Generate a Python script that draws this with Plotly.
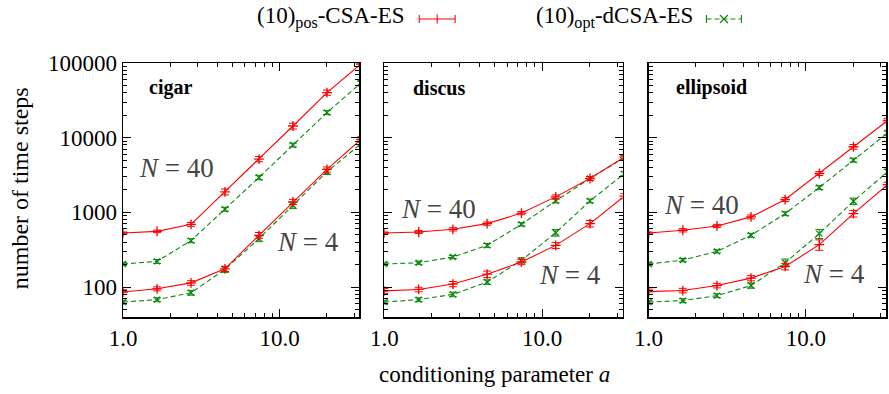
import plotly.graph_objects as go

# ---------------- data ----------------
a_vals = [1.0, 1.65, 2.72, 4.48, 7.39, 12.18, 20.09, 33.12]

panel_names = ["cigar", "discus", "ellipsoid"]

# (10)pos-CSA-ES
cigar_pos_N40 = [531, 558, 693, 1884, 5180, 14350, 40200, 97000]
cigar_pos_N4 = [86, 95, 114, 176, 494, 1384, 3760, 9500]
discus_pos_N40 = [531, 547, 594, 708, 980, 1614, 2846, 5500]
discus_pos_N4 = [89, 93, 110, 149, 217, 362, 708, 1650]
ellipsoid_pos_N40 = [531, 577, 659, 871, 1486, 3320, 7570, 17000]
ellipsoid_pos_N4 = [87, 90, 105, 132, 189, 370, 964, 2350]

# (10)opt-dCSA-ES
cigar_opt_N40 = [204, 221, 419, 1104, 2940, 7980, 21700, 54000]
cigar_opt_N4 = [63, 68, 84, 173, 446, 1248, 3500, 8300]
discus_opt_N40 = [204, 212, 253, 362, 693, 1426, 2846, 5400]
discus_opt_N4 = [63, 68, 80, 117, 228, 535, 1426, 3300]
ellipsoid_opt_N40 = [204, 230, 301, 494, 964, 2150, 5010, 11600]
ellipsoid_opt_N4 = [63, 66, 77, 105, 212, 520, 1413, 3500]

# error bar half-widths, percent of value
cigar_pos_N40_err = [3, 4, 6, 9, 8, 9, 8, 8]
cigar_pos_N4_err = [7, 6, 7, 8, 9, 8, 8, 8]
discus_pos_N40_err = [3, 5, 5, 5, 5, 6, 6, 6]
discus_pos_N4_err = [8, 7, 8, 10, 8, 9, 10, 8]
ellipsoid_pos_N40_err = [3, 5, 5, 6, 6, 6, 7, 7]
ellipsoid_pos_N4_err = [8, 7, 7, 8, 10, 16, 10, 8]
cigar_opt_N40_err = [5, 6, 6, 6, 7, 6, 6, 6]
cigar_opt_N4_err = [6, 6, 7, 9, 9, 10, 8, 8]
discus_opt_N40_err = [5, 5, 5, 6, 5, 6, 6, 6]
discus_opt_N4_err = [6, 6, 7, 7, 8, 10, 6, 6]
ellipsoid_opt_N40_err = [5, 5, 5, 6, 6, 6, 6, 6]
ellipsoid_opt_N4_err = [6, 6, 6, 8, 12, 14, 10, 8]

legend_pos = "(10)<sub>pos</sub>-CSA-ES"
legend_opt = "(10)<sub>opt</sub>-dCSA-ES"
x_tick_vals = [1, 10]
x_tick_text = ["1.0", "10.0"]
y_tick_vals = [100, 1000, 10000, 100000]
y_tick_text = ["100", "1000", "10000", "100000"]

# ---------------- styling ----------------
RED = "#ff0000"
GREEN = "#0a8a0a"
FONT = "Liberation Serif"
TXT_GRAY = "#444444"

panel_series = [
    [(cigar_pos_N40, cigar_pos_N40_err, "pos"), (cigar_pos_N4, cigar_pos_N4_err, "pos"),
     (cigar_opt_N40, cigar_opt_N40_err, "opt"), (cigar_opt_N4, cigar_opt_N4_err, "opt")],
    [(discus_pos_N40, discus_pos_N40_err, "pos"), (discus_pos_N4, discus_pos_N4_err, "pos"),
     (discus_opt_N40, discus_opt_N40_err, "opt"), (discus_opt_N4, discus_opt_N4_err, "opt")],
    [(ellipsoid_pos_N40, ellipsoid_pos_N40_err, "pos"), (ellipsoid_pos_N4, ellipsoid_pos_N4_err, "pos"),
     (ellipsoid_opt_N40, ellipsoid_opt_N40_err, "opt"), (ellipsoid_opt_N4, ellipsoid_opt_N4_err, "opt")],
]

fig = go.Figure()

for p, series in enumerate(panel_series):
    xa = "x" if p == 0 else f"x{p+1}"
    ya = "y" if p == 0 else f"y{p+1}"
    # draw green first, red on top
    for vals, errp, kind in sorted(series, key=lambda s: 0 if s[2] == "opt" else 1):
        err = [v * e / 100.0 for v, e in zip(vals, errp)]
        if kind == "pos":
            color, dash, sym, msize = RED, "solid", "cross-thin", 7
        else:
            color, dash, sym, msize = GREEN, "5px,3px", "x-thin", 6
        fig.add_trace(go.Scatter(
            x=a_vals, y=vals, xaxis=xa, yaxis=ya,
            mode="lines+markers",
            line=dict(color=color, width=1.1, dash=dash),
            marker=dict(symbol=sym, size=msize, color=color,
                        line=dict(color=color, width=1.3)),
            error_y=dict(type="data", array=err, visible=True,
                         color=color, thickness=1, width=4),
            showlegend=False, hoverinfo="skip",
        ))

# layout geometry
W, H = 889, 394
ML, MR, MT, MB = 123, 1, 63, 77
pw = W - ML - MR
ph = H - MT - MB
panel_px = [(123, 360), (385, 624), (650, 888)]


def dom(a, b):
    return [max(0.0, (a - ML) / pw), min(1.0, (b - ML) / pw)]


x_minor = [k for k in range(2, 10)] + [20, 30]
y_minor = [d * k for d in [10, 100, 1000, 10000] for k in range(2, 10) if d * k >= 40]

layout = dict(
    width=W, height=H,
    margin=dict(l=ML, r=MR, t=MT, b=MB),
    paper_bgcolor="white", plot_bgcolor="white",
    showlegend=False,
    font=dict(family=FONT, size=23, color="black"),
)

for p in range(3):
    sx = "" if p == 0 else str(p + 1)
    layout["xaxis" + sx] = dict(
        type="log", range=[0, 1.51], domain=dom(*panel_px[p]),
        anchor="y" + sx,
        tickvals=x_tick_vals, ticktext=x_tick_text,
        ticks="inside", ticklen=8, tickwidth=1, tickcolor="black",
        minor=dict(tickvals=x_minor, ticks="inside", ticklen=4,
                   tickwidth=1, tickcolor="black", showgrid=False),
        showline=True, linecolor="black", linewidth=1.5, mirror="ticks",
        showgrid=False, zeroline=False,
        tickfont=dict(family=FONT, size=23, color="black"),
        ticklabelstandoff=0,
    )
    layout["yaxis" + sx] = dict(
        type="log", range=[1.6, 5.0], domain=[0, 1],
        anchor="x" + sx,
        tickvals=y_tick_vals, ticktext=y_tick_text,
        showticklabels=(p == 0),
        ticks="inside", ticklen=8, tickwidth=1, tickcolor="black",
        minor=dict(tickvals=y_minor, ticks="inside", ticklen=4,
                   tickwidth=1, tickcolor="black", showgrid=False),
        showline=True, linecolor="black", linewidth=1.5, mirror="ticks",
        showgrid=False, zeroline=False,
        tickfont=dict(family=FONT, size=23, color="black"),
    )

fig.update_layout(**layout)

# ---------------- annotations ----------------
ann = []
title_pos = [(0.101, 0.902), (0.112, 0.902), (0.105, 0.902)]
n40_pos = [(0.058, 0.585), (0.063, 0.424), (0.056, 0.441)]
n4_pos = [(0.641, 0.294), (0.641, 0.165), (0.640, 0.168)]
for p in range(3):
    sx = "" if p == 0 else str(p + 1)
    ann.append(dict(text=f"<b>{panel_names[p]}</b>", xref=f"x{sx} domain", yref=f"y{sx} domain",
                    x=title_pos[p][0], y=title_pos[p][1], xanchor="left", yanchor="middle",
                    showarrow=False, font=dict(family=FONT, size=20, color="black")))
    ann.append(dict(text="<i>N</i> = 40", xref=f"x{sx} domain", yref=f"y{sx} domain",
                    x=n40_pos[p][0], y=n40_pos[p][1], xanchor="left", yanchor="middle",
                    showarrow=False, font=dict(family=FONT, size=27, color=TXT_GRAY)))
    ann.append(dict(text="<i>N</i> = 4", xref=f"x{sx} domain", yref=f"y{sx} domain",
                    x=n4_pos[p][0], y=n4_pos[p][1], xanchor="left", yanchor="middle",
                    showarrow=False, font=dict(family=FONT, size=27, color=TXT_GRAY)))


def px2paper(xp, yp):
    return (xp - ML) / pw, (H - MB - yp) / ph


# axis titles
tx, ty = px2paper(495, 374)
ann.append(dict(text="conditioning parameter <i>a</i>", xref="paper", yref="paper",
                x=tx, y=ty, xanchor="center", yanchor="middle", showarrow=False,
                font=dict(family=FONT, size=23, color="black")))
tx, ty = px2paper(20, 188)
ann.append(dict(text="number of time steps", xref="paper", yref="paper", textangle=-90,
                x=tx, y=ty, xanchor="center", yanchor="middle", showarrow=False,
                font=dict(family=FONT, size=24, color="black")))

# legend texts
tx, ty = px2paper(408, 17)
ann.append(dict(text=legend_pos, xref="paper", yref="paper", x=tx, y=ty,
                xanchor="right", yanchor="middle", showarrow=False,
                font=dict(family=FONT, size=23, color="black")))
tx, ty = px2paper(696, 17)
ann.append(dict(text=legend_opt, xref="paper", yref="paper", x=tx, y=ty,
                xanchor="right", yanchor="middle", showarrow=False,
                font=dict(family=FONT, size=23, color="black")))

fig.update_layout(annotations=ann)

# legend samples
shapes = []


def seg(x0, y0, x1, y1, color, dash="solid"):
    a0, b0 = px2paper(x0, y0)
    a1, b1 = px2paper(x1, y1)
    shapes.append(dict(type="line", xref="paper", yref="paper", x0=a0, y0=b0, x1=a1, y1=b1,
                       line=dict(color=color, width=1.1, dash=dash)))


# red sample
seg(420, 19, 456, 19, RED)
seg(420, 15, 420, 23, RED)
seg(456, 15, 456, 23, RED)
seg(438, 14.5, 438, 23.5, RED)
# green sample
seg(708, 19, 743, 19, GREEN, "5px,3px")
seg(708, 15, 708, 23, GREEN)
seg(743, 15, 743, 23, GREEN)
seg(721.5, 15, 729.5, 23, GREEN)
seg(721.5, 23, 729.5, 15, GREEN)

fig.update_layout(shapes=shapes)

fig.write_html(
    "out.html",
    config={"displayModeBar": False, "staticPlot": True},
    post_script="document.body.style.margin='0';document.body.style.overflow='hidden';",
)
